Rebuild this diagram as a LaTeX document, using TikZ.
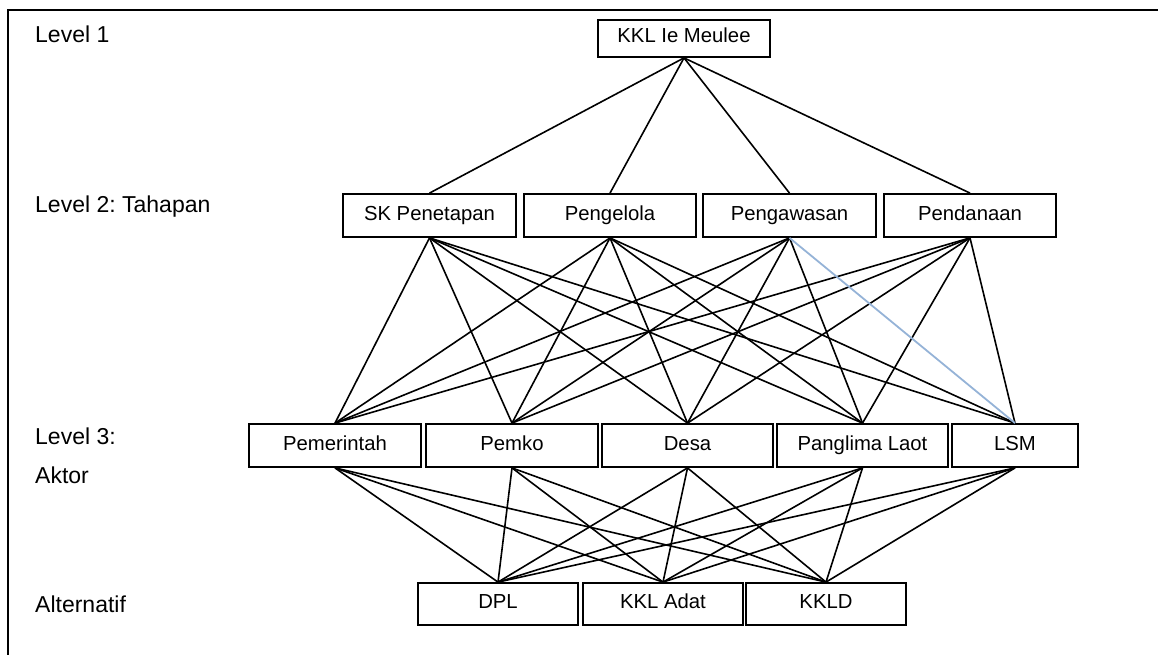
\documentclass[tikz,border=0pt]{standalone}
\usepackage{fontspec}
\setmainfont{Liberation Sans}
\frenchspacing
\definecolor{lineblue}{RGB}{149,179,215}
\begin{document}
\begin{tikzpicture}[x=1pt,y=-1pt,
  box/.style={draw,line width=1.8pt,rectangle,inner sep=0pt,minimum height=43pt,
    text height=14pt,text depth=5pt,
    font=\fontsize{20.3}{24}\selectfont},
  lbl/.style={anchor=base west,inner sep=0pt,font=\fontsize{23}{27}\selectfont},
  conn/.style={line width=1.6pt},
  hl/.style={line width=1.8pt,draw=lineblue}]
\useasboundingbox (0,0) rectangle (1158,655);
\draw[line width=2.5pt] (8,655) -- (8,10) -- (1158,10);
% labels
\node[lbl] (l1) at (35,43) {Level 1};
\node[lbl] (l2) at (35,212) {Level 2: Tahapan};
\node[lbl] (l3a) at (35,444) {Level 3:};
\node[lbl] (l3b) at (35,483) {Aktor};
\node[lbl] (l4) at (35,612) {Alternatif};
% level 1
\node[box,minimum width=172pt,minimum height=37pt] (top) at (684,38.5) {KKL Ie Meulee};
% level 2
\node[box,minimum width=173pt] (sk) at (429.5,215.5) {SK Penetapan};
\node[box,minimum width=172pt] (pg) at (610,215.5) {Pengelola};
\node[box,minimum width=173pt] (pw) at (789.5,215.5) {Pengawasan};
\node[box,minimum width=172pt] (pd) at (970,215.5) {Pendanaan};
% level 3
\node[box,minimum width=172pt] (pm) at (335,445.5) {Pemerintah};
\node[box,minimum width=172pt] (pk) at (512,445.5) {Pemko};
\node[box,minimum width=171pt] (ds) at (687.5,445.5) {Desa};
\node[box,minimum width=171pt] (pl) at (862.5,445.5) {Panglima Laot};
\node[box,minimum width=126pt] (ls) at (1015,445.5) {LSM};
% level 4
\node[box,minimum width=160pt,minimum height=42pt] (dpl) at (498,604) {DPL};
\node[box,minimum width=160pt,minimum height=42pt] (ka) at (663,604) {KKL Adat};
\node[box,minimum width=160pt,minimum height=42pt] (kd) at (826,604) {KKLD};
% edges level 1 -> 2
\foreach \b in {sk,pg,pw,pd} \draw[conn] (top.south) -- (\b.north);
% edges level 2 -> 3
\foreach \a in {sk,pg,pd} \foreach \b in {pm,pk,ds,pl,ls} \draw[conn] (\a.south) -- (\b.north);
\foreach \b in {pm,pk,ds,pl} \draw[conn] (pw.south) -- (\b.north);
\draw[hl] (pw.south) -- (ls.north);
% edges level 3 -> 4
\foreach \a in {pm,pk,ds,pl,ls} \foreach \b in {dpl,ka,kd} \draw[conn] (\a.south) -- (\b.north);
\end{tikzpicture}
\end{document}
